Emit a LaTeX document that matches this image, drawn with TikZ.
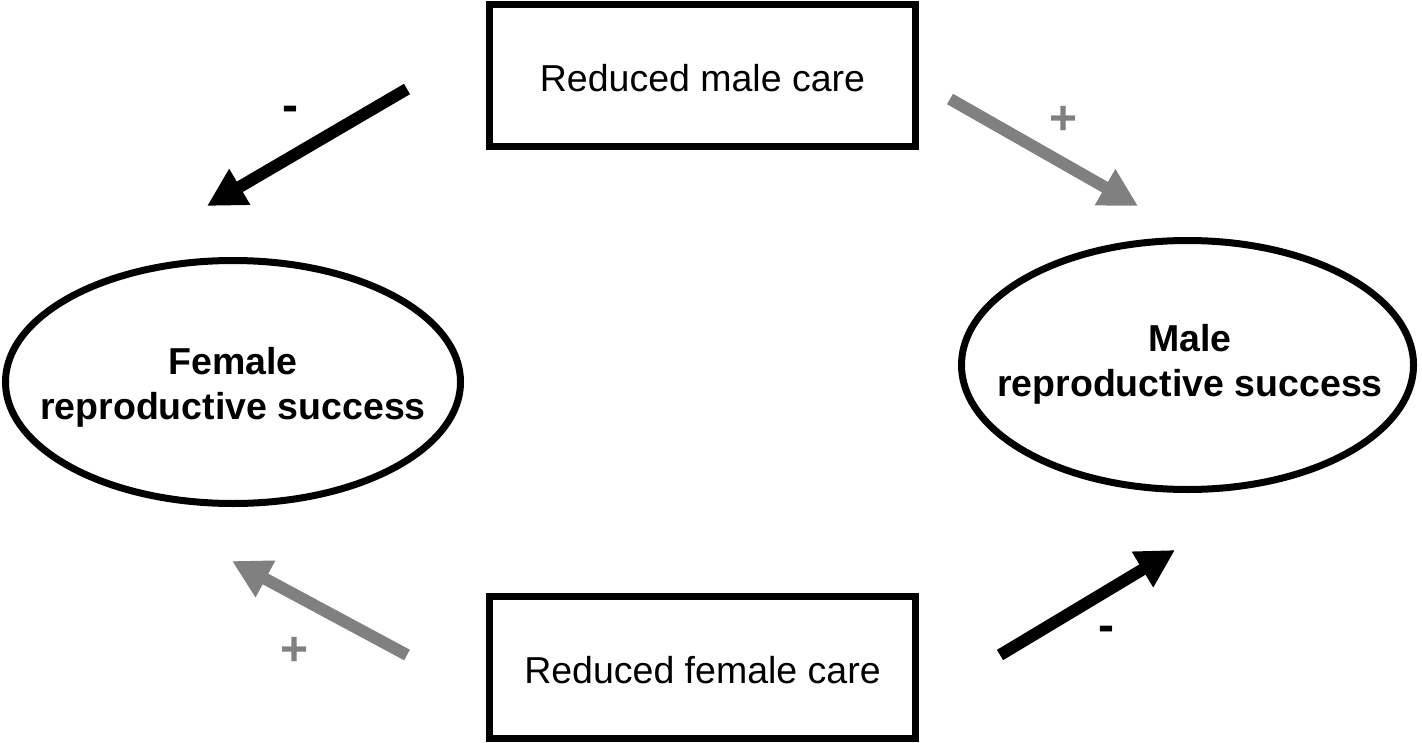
\documentclass[tikz,border=0pt]{standalone}
\usepackage{fontspec}
\setmainfont{Liberation Sans}
\newfontfamily\boxfont{Liberation Sans}
\newfontfamily\ellfont[WordSpace=0.5]{Liberation Sans Bold}
\newfontfamily\signfont{Liberation Sans Bold}
\usetikzlibrary{arrows.meta,shapes.geometric}
\definecolor{arrowgray}{RGB}{128,128,128}
\begin{document}
\begin{tikzpicture}[x=0.5pt,y=-0.5pt,
  careBox/.style={draw, line width=3.5pt, rectangle, inner sep=0pt, outer sep=0pt,
    minimum width=213pt, minimum height=71pt, text height=16pt, text depth=0pt,
    font=\boxfont\fontsize{18.75pt}{22pt}\selectfont},
  successEll/.style={draw, line width=3.5pt, ellipse, inner sep=0pt, outer sep=0pt},
  successText/.style={align=center, inner sep=0pt,
    font=\ellfont\fontsize{18.75pt}{22.5pt}\selectfont},
  bigArrow/.style={line width=6pt, -{Triangle[length=19pt,width=19.5pt]}},
  signLabel/.style={inner sep=0pt, font=\signfont\fontsize{24pt}{24pt}\selectfont}]
\fill[white] (0,0) rectangle (1422,743);
\useasboundingbox (0,0) rectangle (1422,743);

% boxes
\node[careBox] (male) at (702.5,76) {Reduced male care};
\node[careBox] (female) at (702.5,667) {Reduced female care};

% ellipses
\node[successEll, minimum width=227.5pt, minimum height=121.5pt] (fell) at (233,382) {};
\node[successEll, minimum width=226pt, minimum height=124.5pt] (mell) at (1187.5,365) {};
\node[successText] (ftext) at (233,387) {Female\\reproductive success};
\node[successText] (mtext) at (1190,364) {Male\\reproductive success};

% arrow ends
\coordinate (t1) at (407,89);   \coordinate (h1) at (207,206);
\coordinate (t2) at (950,99);   \coordinate (h2) at (1138,206);
\coordinate (t3) at (407,655);  \coordinate (h3) at (232,561);
\coordinate (t4) at (1000,655); \coordinate (h4) at (1175,550);

\draw[bigArrow, black] (t1) -- (h1);
\draw[bigArrow, arrowgray] (t2) -- (h2);
\draw[bigArrow, arrowgray] (t3) -- (h3);
\draw[bigArrow, black] (t4) -- (h4);

% signs
\node[signLabel, text=black] (s1) at (290,114) {-};
\node[signLabel, text=arrowgray] (s2) at (1063,120) {+};
\node[signLabel, text=arrowgray] (s3) at (295,651) {+};
\node[signLabel, text=black] (s4) at (1106,634) {-};
\end{tikzpicture}
\end{document}
